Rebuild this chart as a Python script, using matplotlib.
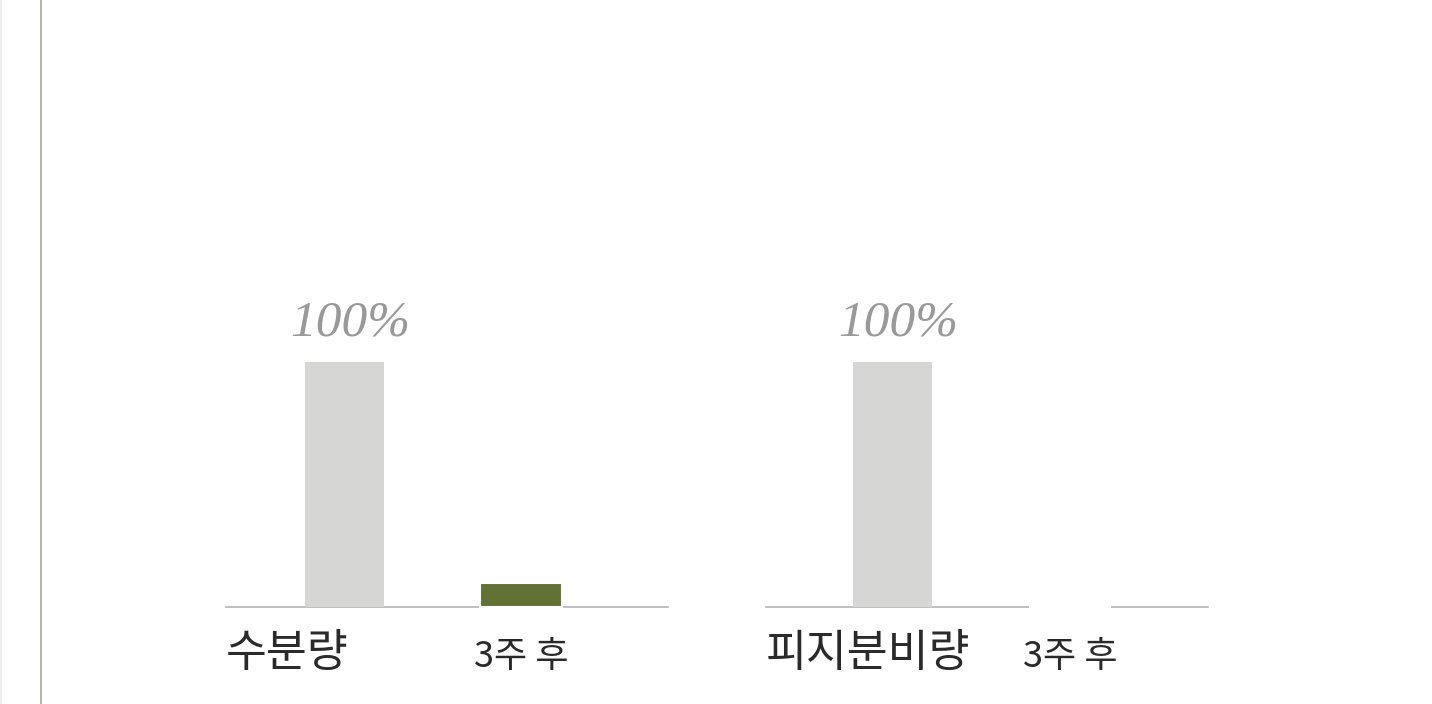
import matplotlib
matplotlib.use('Agg')
import matplotlib.pyplot as plt

plt.rcParams['font.family'] = ['Noto Sans CJK KR', 'DejaVu Sans']

# data
groups = ['수분량', '피지분비량']
after_label = '3주 후'
before_vals = [100, 100]
after_vals = [10, 0]
before_text = ['100%', '100%']

gray_bar = '#d6d6d4'
green_bar = '#627234'
line_col = '#b4b4b4'

W, H = 1432, 704
fig = plt.figure(figsize=(W / 100, H / 100), dpi=100)

# page frame line on the left
fig.add_artist(plt.Line2D([41 / W, 41 / W], [0, 1], color='#b0b0a8', lw=1.3))
fig.add_artist(plt.Line2D([1 / W, 1 / W], [0, 1], color='#ededed', lw=1.5))

# axes left edges / widths in pixels, baseline at y=607
ax_px = [(226, 442), (766, 442)]
base_y = 607
full_h = 245
xlims = [(-0.671, 1.833), (-0.713, 1.777)]
after_cols = [green_bar, 'white']

for i, g in enumerate(groups):
    x0, w = ax_px[i]
    ax = fig.add_axes([x0 / W, (H - base_y) / H, w / W, full_h / H])
    ax.set_xlim(*xlims[i])
    ax.set_ylim(0, 100)
    ax.axis('off')
    ax.axhline(0, color=line_col, lw=1.2, zorder=1, clip_on=False)
    ax.bar([0], [before_vals[i]], width=0.448, color=gray_bar, zorder=2)
    ax.bar([1], [after_vals[i]], width=0.465, color=after_cols[i],
           edgecolor='white', linewidth=1.5, zorder=3, clip_on=False)
    ax.text(0.03, before_vals[i] + 11, before_text[i], ha='center', va='baseline',
            family='Liberation Serif', style='italic', fontsize=37,
            color='#999999', clip_on=False)
    ax.text(0, -24, g, transform=ax.get_yaxis_transform(),
            ha='left', va='baseline', fontsize=32, color='#2a2a2a',
            weight='light', clip_on=False)
    ax.text(1, -24.5, after_label, ha='center', va='baseline', fontsize=26,
            color='#2a2a2a', weight='light', clip_on=False)

plt.savefig('out.png', dpi=100)
